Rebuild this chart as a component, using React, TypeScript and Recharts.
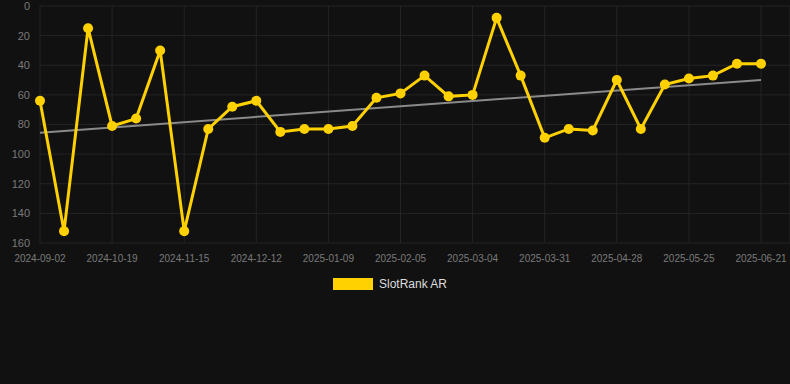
import React from 'react';
import { ComposedChart, Line, XAxis, YAxis, CartesianGrid, Legend } from 'recharts';

// categories (only every 3rd date is printed on the axis)
const dates = [
  '2024-09-02', '2024-09-18', '2024-10-04', '2024-10-19', '2024-10-28', '2024-11-06',
  '2024-11-15', '2024-11-24', '2024-12-03', '2024-12-12', '2024-12-21', '2024-12-31',
  '2025-01-09', '2025-01-18', '2025-01-27', '2025-02-05', '2025-02-14', '2025-02-23',
  '2025-03-04', '2025-03-13', '2025-03-22', '2025-03-31', '2025-04-09', '2025-04-19',
  '2025-04-28', '2025-05-07', '2025-05-16', '2025-05-25', '2025-06-03', '2025-06-12',
  '2025-06-21',
];

// rank values (lower is better, axis reversed)
const rankAR = [
  64, 152, 15, 81, 76, 30, 152, 83, 68, 64, 85, 83, 83, 81, 62, 59,
  47, 61, 60, 8, 47, 89, 83, 84, 50, 83, 53, 49, 47, 39, 39,
];

// trend line end points
const trendStart = 85.5;
const trendEnd = 50;

const yTicks = [0, 20, 40, 60, 80, 100, 120, 140, 160];

const data = dates.map((date, i) => ({
  date,
  rank: rankAR[i],
  trend: i === 0 ? trendStart : i === dates.length - 1 ? trendEnd : null,
}));

const LegendContent = () => (
  <div style={{ position: 'relative', height: 24 }}>
    <div style={{ position: 'absolute', left: 333, top: 6, width: 40, height: 12, background: '#ffd100' }} />
    <span style={{ position: 'absolute', left: 379, top: 4, fontSize: 12, color: '#dddddd', lineHeight: '16px' }}>
      SlotRank AR
    </span>
  </div>
);

export default function App() {
  return (
    <div style={{ position: 'absolute', left: 0, top: 0, width: 790, height: 384, background: '#111111', fontFamily: 'Liberation Sans, Arial, sans-serif' }}>
      <ComposedChart width={790} height={384} data={data} margin={{ top: 6, right: 0, bottom: 87, left: 0 }}>
        <CartesianGrid stroke="#242424" strokeWidth={1} />
        <XAxis
          dataKey="date"
          interval={2}
          padding={{ left: 0, right: 29 }}
          axisLine={false}
          tickLine={false}
          tickSize={0}
          tickMargin={12}
          height={30}
          tick={{ fill: '#7a7a7a', fontSize: 10 }}
        />
        <YAxis
          reversed
          domain={[0, 160]}
          ticks={yTicks}
          width={40}
          axisLine={false}
          tickLine={false}
          tickSize={0}
          tickMargin={10}
          tick={{ fill: '#7a7a7a', fontSize: 11 }}
        />
        <Legend verticalAlign="bottom" height={24} wrapperStyle={{ top: 272, left: 0, width: 790 }} content={<LegendContent />} />
        <Line
          dataKey="trend"
          connectNulls
          stroke="#8a8a8a"
          strokeWidth={2}
          dot={false}
          legendType="none"
          isAnimationActive={false}
        />
        <Line
          dataKey="rank"
          name="SlotRank AR"
          stroke="#ffd100"
          strokeWidth={3}
          dot={{ r: 5, fill: '#ffd100', stroke: '#ffd100', strokeWidth: 0 }}
          isAnimationActive={false}
        />
      </ComposedChart>
    </div>
  );
}
